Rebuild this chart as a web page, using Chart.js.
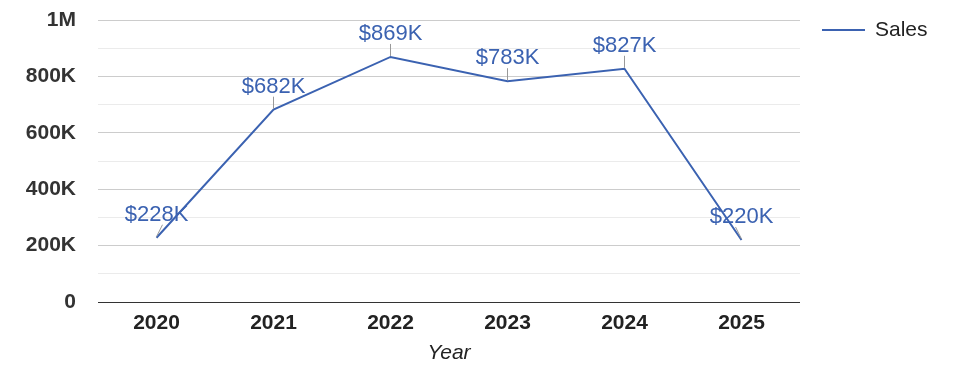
<!DOCTYPE html>
<html>
<head>
<meta charset="utf-8">
<script src="https://cdn.jsdelivr.net/npm/chart.js@4"></script>
<style>
  html, body { margin: 0; padding: 0; background: #fff; }
  #wrap { width: 975px; height: 378px; position: relative; }
</style>
</head>
<body>
<div id="wrap"><canvas id="chart"></canvas></div>
<script>
// Данные графика
const years = ['2020', '2021', '2022', '2023', '2024', '2025'];
const sales = [228000, 682000, 869000, 783000, 827000, 220000];
const yTicks = [0, 200000, 400000, 600000, 800000, 1000000];

const lineColor = '#3b62b1';
const fontFam = 'Arial, "Liberation Sans", sans-serif';

function fmtAxis(v) {
    if (v === 0) return '0';
    if (v >= 1000000) return (v / 1000000) + 'M';
    return (v / 1000) + 'K';
}

// Подписи значений с выносными линиями
const valueLabels = {
    id: 'valueLabels',
    afterDatasetsDraw(chart, args, opts) {
        const ctx = chart.ctx;
        const meta = chart.getDatasetMeta(0);
        ctx.save();
        meta.data.forEach((pt, i) => {
            const dx = opts.leadDx[i] || 0;
            ctx.strokeStyle = '#999';
            ctx.lineWidth = 1;
            ctx.beginPath();
            ctx.moveTo(pt.x, pt.y - 1);
            ctx.lineTo(pt.x + dx, pt.y - 13);
            ctx.stroke();
            ctx.fillStyle = lineColor;
            ctx.font = '22px ' + fontFam;
            ctx.textAlign = 'center';
            ctx.textBaseline = 'middle';
            ctx.fillText('$' + Math.round(sales[i] / 1000) + 'K', pt.x, pt.y - 23);
        });
        ctx.restore();
    }
};

// Легенда справа
const sideLegend = {
    id: 'sideLegend',
    afterDraw(chart) {
        const ctx = chart.ctx;
        ctx.save();
        ctx.strokeStyle = lineColor;
        ctx.lineWidth = 2;
        ctx.beginPath();
        ctx.moveTo(822, 30);
        ctx.lineTo(865, 30);
        ctx.stroke();
        ctx.fillStyle = '#222';
        ctx.font = '21px ' + fontFam;
        ctx.textAlign = 'left';
        ctx.textBaseline = 'middle';
        ctx.fillText('Sales', 875, 30);
        ctx.restore();
    }
};

new Chart(document.getElementById('chart').getContext('2d'), {
    type: 'line',
    data: {
        labels: years,
        datasets: [{
            label: 'Sales',
            data: sales,
            borderColor: lineColor,
            borderWidth: 2,
            pointRadius: 0,
            tension: 0,
            fill: false
        }]
    },
    options: {
        responsive: true,
        maintainAspectRatio: false,
        animation: false,
        layout: { padding: { left: 0, right: 175, top: 20, bottom: 0 } },
        scales: {
            x: {
                offset: true,
                grid: { display: false, drawTicks: false },
                border: { display: false },
                ticks: {
                    color: '#222',
                    padding: 9,
                    font: { family: fontFam, size: 21, weight: 'bold' }
                },
                title: {
                    display: true,
                    text: 'Year',
                    color: '#222',
                    padding: { top: 0, bottom: 12 },
                    font: { family: fontFam, size: 21, style: 'italic' }
                },
                afterFit(scale) { scale.height = 76; }
            },
            y: {
                min: 0,
                max: 1000000,
                grid: {
                    drawTicks: false,
                    color: ctx => {
                        const v = ctx.tick.value;
                        if (v === 0) return '#333';
                        return yTicks.includes(v) ? '#cccccc' : '#ebebeb';
                    },
                    lineWidth: 1
                },
                border: { display: false },
                ticks: {
                    stepSize: 100000,
                    autoSkip: false,
                    padding: 22,
                    color: '#333',
                    font: { family: fontFam, size: 21, weight: 'bold' },
                    callback: v => yTicks.includes(v) ? fmtAxis(v) : ''
                },
                afterFit(scale) {
                    scale.width = 98;
                    scale.paddingTop = 0;
                    scale.paddingBottom = 0;
                }
            }
        },
        plugins: {
            legend: { display: false },
            tooltip: { enabled: false },
            valueLabels: { leadDx: [6, 0, 0, 0, 0, -6] }
        }
    },
    plugins: [valueLabels, sideLegend]
});
</script>
</body>
</html>
